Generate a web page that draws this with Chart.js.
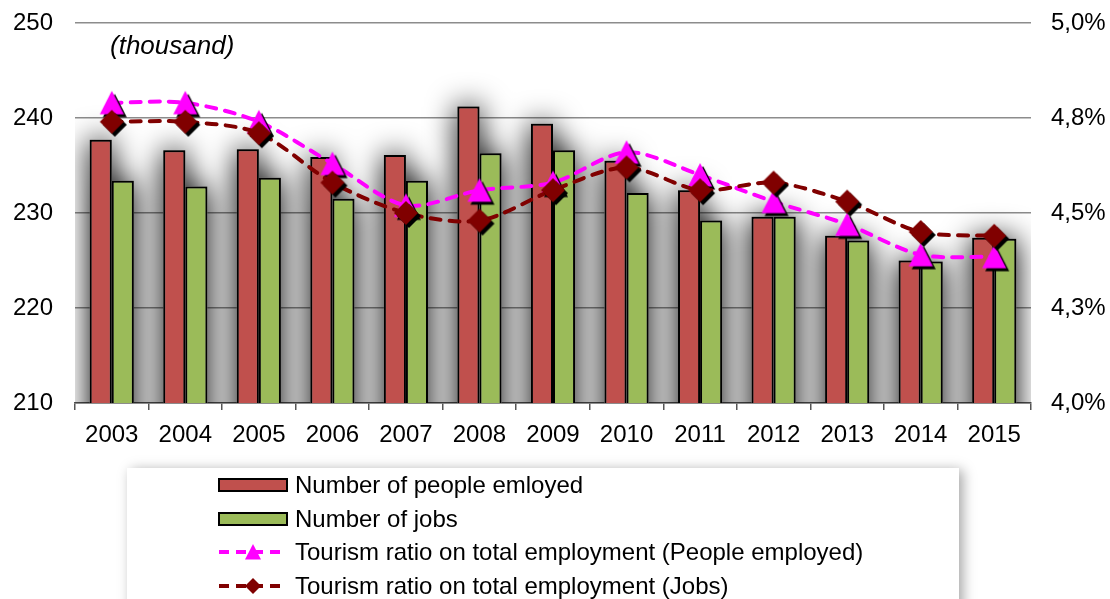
<!DOCTYPE html>
<html>
<head>
<meta charset="utf-8">
<script src="https://cdn.jsdelivr.net/npm/chart.js@4"></script>
<style>
  html, body { margin: 0; padding: 0; background: #fff; }
  #wrap { position: relative; width: 1110px; height: 599px; overflow: hidden; }
  #legend {
    position: absolute; left: 127px; top: 468px; width: 832px; height: 170px;
    background: #fff; box-shadow: 4px 2px 12px rgba(0,0,0,0.35);
    font-family: "Liberation Sans", Arial, sans-serif; font-size: 24px; color: #000;
    padding-left: 91px; box-sizing: border-box;
  }
  .row { height: 33.8px; display: flex; align-items: center; white-space: nowrap; }
  .sym { width: 70px; height: 20px; margin-right: 7px; display: block; }
</style>
</head>
<body>
<div id="wrap">
  <canvas id="myChart" width="1110" height="599"></canvas>
  <div id="legend"></div>
</div>
<script>
const years = ['2003', '2004', '2005', '2006', '2007', '2008', '2009', '2010', '2011', '2012', '2013', '2014', '2015'];
const peopleEmployed = [237.7, 236.6, 236.7, 235.9, 236.1, 241.2, 239.4, 235.5, 232.4, 229.6, 227.6, 225.0, 227.4];
const jobs = [233.4, 232.8, 233.7, 231.5, 233.4, 236.3, 236.6, 232.1, 229.2, 229.6, 227.1, 224.9, 227.3];
const ratioPeople = [4.79, 4.79, 4.74, 4.63, 4.52, 4.56, 4.58, 4.66, 4.60, 4.53, 4.47, 4.39, 4.385];
const ratioJobs = [4.74, 4.74, 4.71, 4.58, 4.50, 4.48, 4.56, 4.62, 4.56, 4.58, 4.53, 4.45, 4.44];
const seriesLabels = [
  'Number of people emloyed',
  'Number of jobs',
  'Tourism ratio on total employment (People employed)',
  'Tourism ratio on total employment (Jobs)'
];
const unitLabel = '(thousand)';

const FONT = '"Liberation Sans", Arial, sans-serif';

function shapePath(ctx, shape, cx, cy, r) {
  ctx.beginPath();
  if (shape === 'triangle') {
    ctx.moveTo(cx, cy - r);
    ctx.lineTo(cx + r, cy + r * 0.95);
    ctx.lineTo(cx - r, cy + r * 0.95);
  } else {
    ctx.moveTo(cx, cy - r);
    ctx.lineTo(cx + r, cy);
    ctx.lineTo(cx, cy + r);
    ctx.lineTo(cx - r, cy);
  }
  ctx.closePath();
}

// marker with a small black drop shadow, like the original
function makeMarker(shape, color, r) {
  const c = document.createElement('canvas');
  c.width = 34; c.height = 34;
  const ctx = c.getContext('2d');
  ctx.shadowColor = '#000';
  ctx.shadowOffsetX = 3;
  ctx.shadowOffsetY = 3;
  ctx.fillStyle = color;
  shapePath(ctx, shape, 17, 17, r);
  ctx.fill();
  return c;
}

const triMarker = makeMarker('triangle', '#FF00FF', 12);
const diaMarker = makeMarker('diamond', '#800000', 12);

// gray glow behind the bars
const barGlow = {
  id: 'barGlow',
  beforeDatasetsDraw(chart) {
    const ctx = chart.ctx;
    const a = chart.chartArea;
    ctx.save();
    ctx.beginPath();
    ctx.rect(a.left, a.top, a.right - a.left, a.bottom - a.top);
    ctx.clip();
    ctx.shadowColor = 'rgba(0,0,0,1)';
    ctx.shadowBlur = 30;
    ctx.fillStyle = '#888';
    ctx.beginPath();
    [0, 1].forEach(i => {
      chart.getDatasetMeta(i).data.forEach(b => {
        ctx.rect(b.x - b.width / 2, b.y, b.width, b.base - b.y);
      });
    });
    ctx.fill();
    ctx.restore();
  },
  afterDraw(chart) {
    const ctx = chart.ctx;
    ctx.save();
    ctx.font = 'italic 26px ' + FONT;
    ctx.fillStyle = '#000';
    ctx.textBaseline = 'alphabetic';
    ctx.fillText(unitLabel, 110, 54);
    ctx.restore();
  }
};

const config = document.getElementById('myChart');
const chart = new Chart(config, {
  type: 'bar',
  data: {
    labels: years,
    datasets: [{
      label: seriesLabels[0],
      data: peopleEmployed,
      backgroundColor: '#C0504D',
      borderColor: '#000',
      borderWidth: 2,
      yAxisID: 'y',
      order: 2,
      categoryPercentage: 0.6,
      barPercentage: 1.0
    }, {
      label: seriesLabels[1],
      data: jobs,
      backgroundColor: '#9BBB59',
      borderColor: '#000',
      borderWidth: 2,
      yAxisID: 'y',
      order: 2,
      categoryPercentage: 0.6,
      barPercentage: 1.0
    }, {
      type: 'line',
      label: seriesLabels[2],
      data: ratioPeople,
      borderColor: '#FF00FF',
      borderWidth: 4,
      borderDash: [10, 9],
      borderCapStyle: 'round',
      tension: 0.3,
      pointStyle: triMarker,
      yAxisID: 'y1',
      order: 1
    }, {
      type: 'line',
      label: seriesLabels[3],
      data: ratioJobs,
      borderColor: '#800000',
      borderWidth: 4,
      borderDash: [10, 9],
      borderCapStyle: 'round',
      tension: 0.3,
      pointStyle: diaMarker,
      yAxisID: 'y1',
      order: 0
    }]
  },
  options: {
    responsive: false,
    animation: false,
    layout: { padding: { top: 23, bottom: 146, left: 0, right: 0 } },
    plugins: {
      legend: { display: false },
      tooltip: { enabled: false }
    },
    scales: {
      x: {
        offset: true,
        grid: {
          offset: true,
          drawOnChartArea: false,
          drawTicks: true,
          tickLength: 7,
          color: '#555',
          lineWidth: 1.5
        },
        border: { display: true, color: '#555', width: 1.5 },
        ticks: { color: '#000', font: { family: FONT, size: 24 }, padding: 11, maxRotation: 0 },
        afterFit: (s) => { s.height = 50; }
      },
      y: {
        position: 'left',
        min: 210,
        max: 250,
        grid: { color: '#8c8c8c', lineWidth: 1.5, drawTicks: false },
        border: { display: false },
        ticks: { stepSize: 10, color: '#000', font: { family: FONT, size: 24 }, padding: 22 },
        afterFit: (s) => { s.width = 75; s.paddingTop = 0; s.paddingBottom = 0; }
      },
      y1: {
        position: 'right',
        min: 4,
        max: 5,
        grid: { display: false, drawOnChartArea: false, drawTicks: false },
        border: { display: false },
        ticks: {
          stepSize: 0.25,
          color: '#000',
          font: { family: FONT, size: 24 },
          padding: 20,
          callback: (v) => v.toFixed(1).replace('.', ',') + '%'
        },
        afterFit: (s) => { s.width = 79; s.paddingTop = 0; s.paddingBottom = 0; }
      }
    }
  },
  plugins: [barGlow]
});

// html legend
function drawSymbol(c, ds) {
  const ctx = c.getContext('2d');
  if (ds.type === 'line') {
    ctx.strokeStyle = ds.borderColor;
    ctx.lineWidth = 4;
    ctx.setLineDash([10, 7]);
    ctx.beginPath();
    ctx.moveTo(1, 10);
    ctx.lineTo(69, 10);
    ctx.stroke();
    ctx.fillStyle = ds.borderColor;
    shapePath(ctx, ds.pointStyle === triMarker ? 'triangle' : 'diamond', 35, 10, 8);
    ctx.fill();
  } else {
    ctx.fillStyle = '#000';
    ctx.fillRect(0, 3, 70, 14);
    ctx.fillStyle = ds.backgroundColor;
    ctx.fillRect(2, 5, 66, 10);
  }
}

const legendBox = document.getElementById('legend');
chart.data.datasets.forEach(ds => {
  const row = document.createElement('div');
  row.className = 'row';
  const c = document.createElement('canvas');
  c.width = 70; c.height = 20; c.className = 'sym';
  drawSymbol(c, ds);
  const span = document.createElement('span');
  span.textContent = ds.label;
  row.appendChild(c);
  row.appendChild(span);
  legendBox.appendChild(row);
});
</script>
</body>
</html>
